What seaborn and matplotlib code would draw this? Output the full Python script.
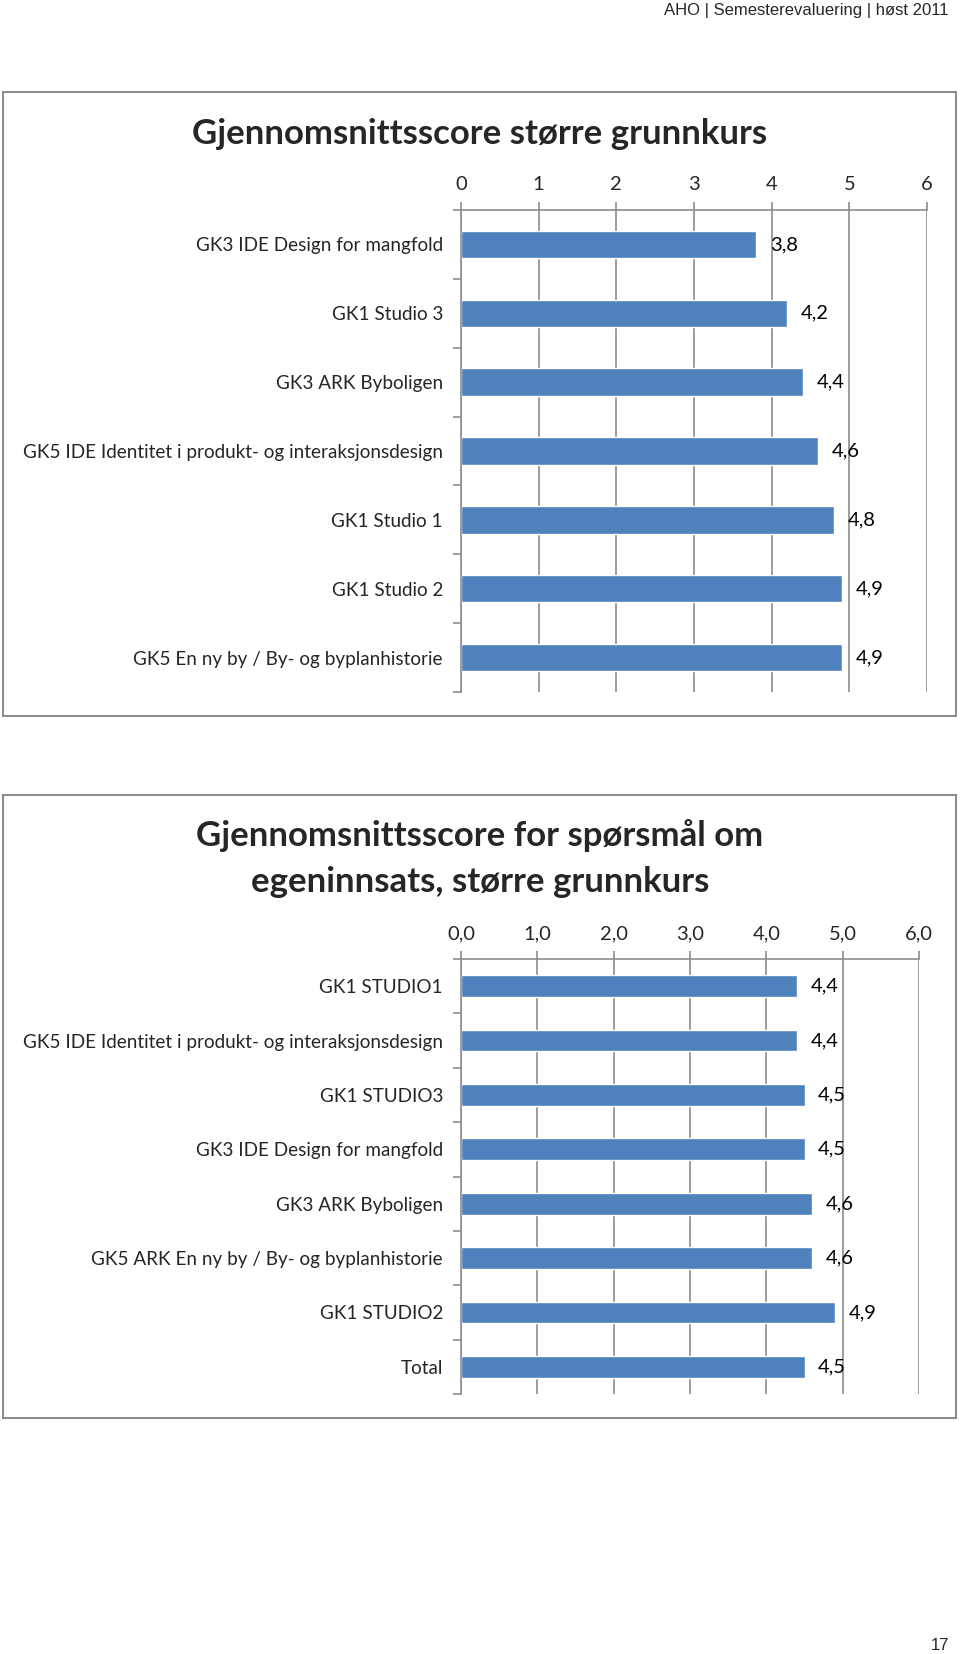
import matplotlib
matplotlib.use("Agg")
import matplotlib.pyplot as plt
from matplotlib.patches import Rectangle
import seaborn as sns
import pandas as pd
import numpy as np

# data
top_courses = ["GK3 IDE Design for mangfold", "GK1 Studio 3", "GK3 ARK Byboligen",
               "GK5 IDE Identitet i produkt- og interaksjonsdesign", "GK1 Studio 1",
               "GK1 Studio 2", "GK5 En ny by / By- og byplanhistorie"]
top_scores = [3.8, 4.2, 4.4, 4.6, 4.8, 4.9, 4.9]
top_ticks = [0, 1, 2, 3, 4, 5, 6]

bottom_courses = ["GK1 STUDIO1", "GK5 IDE Identitet i produkt- og interaksjonsdesign",
                  "GK1 STUDIO3", "GK3 IDE Design for mangfold", "GK3 ARK Byboligen",
                  "GK5 ARK En ny by / By- og byplanhistorie", "GK1 STUDIO2", "Total"]
bottom_scores = [4.4, 4.4, 4.5, 4.5, 4.6, 4.6, 4.9, 4.5]
bottom_ticks = [0.0, 1.0, 2.0, 3.0, 4.0, 5.0, 6.0]

BAR = "#4F81BD"
GRID = "#8C8C8C"
FONT = ["Lato", "DejaVu Sans"]

sns.set_theme(style="white")
plt.rcParams["font.family"] = FONT

W, H = 960, 1654
fig = plt.figure(figsize=(W / 100, H / 100), dpi=100)


def comma(v, fmt):
    return format(v, fmt).replace(".", ",")


def draw(ax, names, scores, ticks, tick_fmt):
    df = pd.DataFrame({"kurs": names, "score": scores})
    sns.barplot(data=df, y="kurs", x="score", orient="h", color=BAR,
                saturation=1, width=0.4, ax=ax)
    n = len(names)
    ax.set_xlim(0, 6)
    ax.set_ylim(n - 0.5, -0.5)
    ax.xaxis.tick_top()
    ax.set_xticks(ticks)
    ax.set_xticklabels([comma(t, tick_fmt) for t in ticks], fontsize=14.5)
    ax.tick_params(axis="x", which="major", direction="out", length=6,
                   color=GRID, width=1.2, pad=6, top=True, bottom=False)
    ax.set_yticks(range(n))
    ax.set_yticklabels(names, fontsize=13.6)
    ax.tick_params(axis="y", which="major", length=0, pad=13)
    ax.set_yticks(np.arange(n + 1) - 0.5, minor=True)
    ax.tick_params(axis="y", which="minor", direction="out", length=6,
                   color=GRID, width=1.2, left=True)
    ax.grid(axis="x", color=GRID, linewidth=1.2)
    ax.grid(axis="y", visible=False)
    ax.set_axisbelow(True)
    for s in ["right", "bottom"]:
        ax.spines[s].set_visible(False)
    for s in ["top", "left"]:
        ax.spines[s].set_color(GRID)
        ax.spines[s].set_linewidth(1.2)
    ax.set_xlabel("")
    ax.set_ylabel("")
    for i, v in enumerate(scores):
        ax.text(v + 0.18, i, comma(v, ".1f"), va="center", ha="left",
                fontsize=14.5, color="black")
    ax.patch.set_alpha(0)


# chart frames
for (y0, y1) in [(92, 716), (795, 1418)]:
    fig.patches.append(Rectangle((3 / W, 1 - y1 / H), 953 / W, (y1 - y0) / H,
                                 transform=fig.transFigure, fill=False,
                                 edgecolor="#8C8C8C", linewidth=1.5))

ax1 = fig.add_axes([461 / W, 1 - 692 / H, 466 / W, 482 / H])
draw(ax1, top_courses, top_scores, top_ticks, ".0f")

ax2 = fig.add_axes([461 / W, 1 - 1394 / H, 458 / W, 435 / H])
draw(ax2, bottom_courses, bottom_scores, bottom_ticks, ".1f")

fig.text(480 / W, 1 - 134 / H, "Gjennomsnittsscore større grunnkurs",
         ha="center", va="center", fontsize=25, fontweight="bold")
fig.text(480 / W, 1 - 836 / H, "Gjennomsnittsscore for spørsmål om",
         ha="center", va="center", fontsize=25, fontweight="bold")
fig.text(480 / W, 1 - 882 / H, "egeninnsats, større grunnkurs",
         ha="center", va="center", fontsize=25, fontweight="bold")

fig.text(949 / W, 1 - 11 / H, "AHO | Semesterevaluering | høst 2011",
         ha="right", va="center", fontsize=12, family="Liberation Sans")
fig.text(949 / W, 1 - 1645 / H, "17", ha="right", va="center",
         fontsize=12, family="Liberation Sans")

fig.savefig("out.png", dpi=100)
